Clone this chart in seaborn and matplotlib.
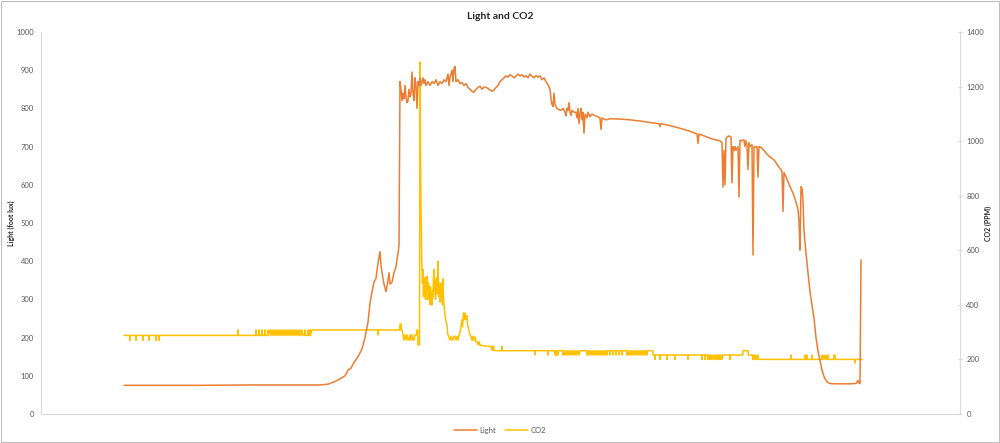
import pandas as pd
import matplotlib.pyplot as plt
import seaborn as sns
from matplotlib.patches import Rectangle
from matplotlib.lines import Line2D

# Light readings (sample number, foot lux)
light_points = [
    (0, 75), (76, 75), (126, 76), (176, 76), (196, 76), (204, 78), (211, 85), (216, 92),
    (221, 100), (224, 115), (227, 120), (230, 135), (234, 150), (238, 170), (241, 200),
    (244, 240), (246, 290), (248, 320), (250, 345), (252, 355), (254, 395), (256, 425),
    (257, 390), (258, 370), (260, 340), (262, 320), (264, 350), (265, 370), (266, 340),
    (268, 345), (270, 370), (272, 385), (273, 405), (274, 420), (275, 440), (276, 870),
    (277, 850), (278, 820), (279, 840), (280, 825), (281, 860), (282, 830), (283, 815),
    (284, 820), (285, 850), (286, 830), (287, 840), (288, 895), (289, 840), (290, 820),
    (291, 880), (292, 860), (293, 800), (294, 870), (295, 860), (296, 880), (297, 860),
    (298, 870), (299, 880), (300, 865), (301, 875), (302, 860), (304, 870), (306, 860),
    (308, 870), (310, 865), (312, 875), (314, 860), (316, 870), (318, 865), (320, 875),
    (322, 870), (324, 890), (325, 860), (326, 880), (328, 900), (329, 870), (330, 905),
    (331, 910), (332, 870), (334, 875), (336, 865), (338, 868), (340, 860), (342, 865),
    (344, 855), (346, 850), (348, 845), (350, 842), (352, 850), (354, 855), (356, 858),
    (358, 850), (360, 856), (362, 855), (364, 852), (366, 848), (368, 845), (370, 848),
    (372, 855), (374, 860), (376, 870), (378, 875), (380, 880), (382, 885), (384, 882),
    (386, 888), (388, 885), (390, 880), (392, 884), (394, 890), (396, 885), (398, 888),
    (400, 882), (402, 886), (404, 880), (406, 890), (408, 884), (410, 880), (412, 886),
    (414, 882), (416, 885), (418, 875), (420, 880), (422, 870), (424, 862), (426, 850),
    (427, 825), (428, 810), (429, 805), (430, 840), (431, 810), (433, 800), (435, 796),
    (437, 795), (439, 800), (441, 790), (442, 780), (443, 800), (444, 795), (445, 815),
    (446, 790), (447, 782), (448, 795), (450, 790), (452, 790), (453, 775), (454, 800),
    (455, 760), (456, 785), (457, 800), (458, 770), (459, 790), (460, 735), (461, 785),
    (462, 780), (463, 775), (464, 790), (466, 778), (468, 785), (470, 782), (472, 780),
    (474, 778), (476, 775), (477, 745), (478, 775), (480, 772), (482, 770), (486, 773),
    (496, 772), (506, 770), (516, 767), (526, 763), (535, 760), (536, 752), (537, 760),
    (546, 755), (556, 748), (566, 740), (573, 733), (574, 708), (575, 733), (581, 727),
    (588, 720), (596, 715), (598, 710), (599, 594), (600, 690), (601, 600), (602, 720),
    (603, 725), (605, 728), (607, 725), (608, 605), (609, 700), (610, 690), (611, 700),
    (612, 690), (614, 700), (615, 568), (616, 717), (618, 715), (620, 718), (621, 700),
    (622, 715), (623, 702), (624, 640), (625, 710), (626, 700), (628, 705), (629, 416),
    (630, 700), (631, 698), (633, 700), (634, 620), (635, 700), (637, 698), (640, 690),
    (643, 680), (646, 673), (650, 665), (654, 650), (658, 635), (659, 530), (660, 632),
    (663, 615), (666, 595), (669, 578), (672, 555), (674, 535), (675, 505), (676, 429),
    (677, 595), (678, 590), (679, 560), (680, 480), (682, 420), (684, 370), (686, 320),
    (688, 285), (690, 250), (692, 200), (694, 165), (696, 140), (698, 115), (700, 98),
    (702, 88), (704, 82), (706, 80), (710, 79), (716, 79), (726, 79), (732, 80),
    (734, 88), (735, 80), (736, 80), (737, 403),
]

# CO2 readings (sample number, ppm)
co2_points = [
    (0, 288),
    (5.7, 288), (6, 270), (6.3, 288), (11.7, 288), (12, 270), (12.3, 288),
    (18.7, 288), (19, 270), (19.3, 288), (24.7, 288), (25, 270), (25.3, 288),
    (31.7, 288), (32, 270), (32.3, 288), (34.7, 288), (35, 270), (35.3, 288),
    (113.7, 288), (114, 308), (114.3, 288),
    (131.7, 288), (132, 308), (132.3, 288), (134.7, 288), (135, 308), (135.3, 288),
    (137.7, 288), (138, 308), (138.3, 288), (140.7, 288), (141, 308), (141.3, 288),
    (143.7, 288), (144, 308), (144.3, 288),
    (146, 308), (147, 288), (148, 308), (149, 288), (150, 308), (151, 288), (152, 308),
    (153, 288), (154, 308), (155, 288), (156, 308), (157, 288), (158, 308), (159, 288),
    (160, 308), (161, 288), (162, 308), (163, 288), (164, 308), (165, 288), (166, 308),
    (167, 288), (168, 308), (169, 288), (170, 308), (171, 288), (172, 308), (173, 288),
    (174, 308), (175, 288), (176, 308), (177, 288), (178, 308), (179, 288),
    (180.7, 288), (181, 308), (181.3, 288), (183.7, 288), (184, 308), (184.3, 288),
    (185.7, 288), (186, 308), (186.3, 288), (188, 308),
    (253.7, 308), (254, 290), (254.3, 308),
    (275.7, 308), (276, 330), (277, 330), (277.3, 308),
    (278, 308), (279, 290), (280, 271), (281, 290), (282, 271), (283, 290), (284, 271),
    (285, 271), (286, 290), (287, 271), (288, 290), (289, 271), (290, 271), (291, 290),
    (292.7, 290), (293, 308), (293.5, 308), (294, 253), (295.5, 253), (296, 1290),
    (296.7, 860), (297.7, 564),
    (298.5, 480), (299, 530), (299.5, 430), (300, 500), (300.5, 440), (301, 480),
    (301.5, 420), (302, 500), (302.5, 450), (303, 505), (303.5, 420), (304, 430),
    (304.5, 480), (305, 420), (305.5, 465), (306, 400), (306.5, 465), (307, 410),
    (307.5, 440), (308, 400), (308.5, 450), (309, 430), (309.5, 500), (310, 530),
    (310.5, 450), (311, 490), (311.5, 420), (312, 455), (312.5, 500), (313, 440),
    (313.5, 495), (314, 560), (314.5, 470), (315, 430), (315.5, 480), (316, 410),
    (316.5, 470), (317, 480), (317.5, 430), (318, 455), (318.5, 400), (319, 495),
    (319.5, 420), (320, 400), (320.5, 380), (321, 360), (322, 340), (323, 325),
    (323.5, 300), (324, 290), (325, 280), (326, 271), (327, 285), (328, 271), (329, 271),
    (330, 285), (331, 285), (332, 271), (333, 285), (334, 271), (335, 290), (336, 300),
    (337, 320), (338, 345), (338.5, 320), (339, 345), (339.5, 370), (340, 345),
    (341, 370), (341.5, 345), (342, 360), (343, 360), (343.5, 330), (344, 320),
    (345, 305), (346, 290), (347, 285), (348, 270), (349, 285), (350, 270), (351, 282),
    (352, 265), (353, 265), (354, 253), (355, 265), (356, 253), (357, 253), (358, 250),
    (361, 250), (362, 248), (367, 248), (368, 234), (368.5, 248), (369, 234),
    (369.5, 248), (370, 234), (371, 232),
    (377.7, 232), (378, 248), (378.3, 232),
    (410.7, 232), (411, 216), (411.3, 232), (423.7, 232), (424, 216), (424.3, 232),
    (430.7, 232), (431, 216), (431.5, 232), (432, 216), (432.5, 232), (433, 216),
    (433.5, 232), (434, 216), (434.3, 232),
    (438.7, 232), (439, 216), (440, 232), (441, 216), (442, 232), (443, 216), (444, 232),
    (445, 216), (446, 232), (447, 216), (448, 232), (449, 216), (450, 232), (451, 216),
    (452, 232), (453, 216), (454, 232), (455, 216), (456, 232),
    (462.7, 232), (463, 216), (464, 232), (465, 216), (466, 232), (467, 216), (468, 232),
    (469, 216), (470, 232), (471, 216), (472, 232), (473, 216), (474, 232), (475, 216),
    (476, 232), (477, 216), (478, 232), (479, 216), (480, 232), (481, 216), (482, 232),
    (483, 216), (483.3, 232),
    (485.7, 232), (486, 216), (486.3, 232), (488.7, 232), (489, 216), (489.3, 232),
    (491.7, 232), (492, 216), (492.3, 232), (494.7, 232), (495, 216), (495.3, 232),
    (497.7, 232), (498, 216), (498.3, 232),
    (502.7, 232), (503, 216), (504, 232), (505, 216), (506, 232), (507, 216), (508, 232),
    (509, 216), (510, 232), (511, 216), (512, 232), (513, 216), (514, 232), (515, 216),
    (516, 232), (517, 216), (518, 232), (519, 216), (520, 232), (521, 216), (522, 232),
    (523, 216), (523.3, 232),
    (528.7, 232), (529, 216),
    (530.7, 216), (531, 200), (531.3, 216), (535.7, 216), (536, 200), (536.3, 216),
    (542.7, 216), (543, 200), (543.3, 216), (550.7, 216), (551, 200), (551.3, 216),
    (563.7, 216), (564, 200), (564.3, 216), (577.7, 216), (578, 200), (578.3, 216),
    (580.7, 216), (581, 200), (581.3, 216), (583.7, 216), (584, 200), (584.3, 216),
    (585.7, 216), (586, 200), (587, 216), (588, 200), (589, 216), (590, 200), (591, 216),
    (592, 200), (593, 216), (594, 200), (594.3, 216), (595.7, 216), (596, 200),
    (597, 216), (598, 200), (599, 216), (605.7, 216), (606, 200), (606.3, 216),
    (618.7, 216), (619, 232), (624, 232), (624.3, 216),
    (628.7, 216), (629, 200), (630, 216), (631, 200), (632, 216), (633, 200), (634, 216),
    (634.5, 200),
    (666.7, 200), (667, 216), (667.3, 200), (680.7, 200), (681, 216), (681.3, 200),
    (682.7, 200), (683, 216), (683.3, 200), (687.7, 200), (688, 216), (688.3, 200),
    (697.7, 200), (698, 216), (699, 200), (700, 216), (701, 200), (702, 216), (703, 200),
    (704, 216), (704.3, 200), (709.7, 200), (710, 216), (711, 216), (711.3, 200),
    (730.7, 200), (731, 187), (731.3, 200), (738, 200),
]

light = pd.DataFrame(light_points, columns=['sample', 'lux'])
co2 = pd.DataFrame(co2_points, columns=['sample', 'ppm'])

light_color = '#ED7D31'
co2_color = '#FFC000'
text_color = '#595959'
axis_color = '#D9D9D9'

sns.set_style('white')
plt.rcParams['font.family'] = ['Lato', 'DejaVu Sans']

fig = plt.figure(figsize=(10, 4.43), dpi=100)
ax = fig.add_axes([0.041, 0.0655, 0.919, 0.8623])
ax2 = ax.twinx()

sns.lineplot(data=light, x='sample', y='lux', ax=ax, color=light_color, lw=1.1,
             estimator=None, sort=False, legend=False)
sns.lineplot(data=co2, x='sample', y='ppm', ax=ax2, color=co2_color, lw=1.1,
             estimator=None, sort=False, legend=False)
ax.set_zorder(ax2.get_zorder() + 1)
ax.patch.set_visible(False)

ax.set_xlim(-83, 836)
ax.set_ylim(0, 1000)
ax.set_yticks(range(0, 1001, 100))
ax2.set_ylim(0, 1400)
ax2.set_yticks(range(0, 1401, 200))
ax.set_xticks([])
ax.set_xlabel('')

for a in (ax, ax2):
    for s in a.spines.values():
        s.set_visible(False)
ax.spines['left'].set_visible(True)
ax.spines['left'].set_color(axis_color)
ax.spines['bottom'].set_visible(True)
ax.spines['bottom'].set_color(axis_color)
ax2.spines['right'].set_visible(True)
ax2.spines['right'].set_color(axis_color)

ax.tick_params(axis='y', length=0, pad=5, labelsize=5.5, labelcolor=text_color)
ax2.tick_params(axis='y', length=3, direction='inout', color=axis_color, pad=3,
                labelsize=5.5, labelcolor=text_color)

ax.set_ylabel('Light (foot lux)', fontsize=5, fontweight='bold', color='#262626')
ax.yaxis.set_label_coords(-0.028, 0.5)
ax2.set_ylabel('CO2 (PPM)', fontsize=5, fontweight='bold', color='#262626')
ax2.yaxis.set_label_coords(1.027, 0.5)

fig.text(0.5, 0.963, 'Light and CO2', ha='center', va='center', fontsize=7.5,
         fontweight='bold', color='#262626')

handles = [Line2D([], [], color=light_color, lw=1.1), Line2D([], [], color=co2_color, lw=1.1)]
fig.legend(handles, ['Light', 'CO2'], loc='center', bbox_to_anchor=(0.5, 0.028), ncol=2,
           frameon=False, fontsize=5.5, labelcolor=text_color, handlelength=3,
           handletextpad=0.3, columnspacing=1.2)

fig.patches.append(Rectangle((0.001, 0.002), 0.998, 0.996, transform=fig.transFigure,
                             fill=False, edgecolor='#BFBFBF', lw=0.8))

fig.savefig('out.png', dpi=100)
